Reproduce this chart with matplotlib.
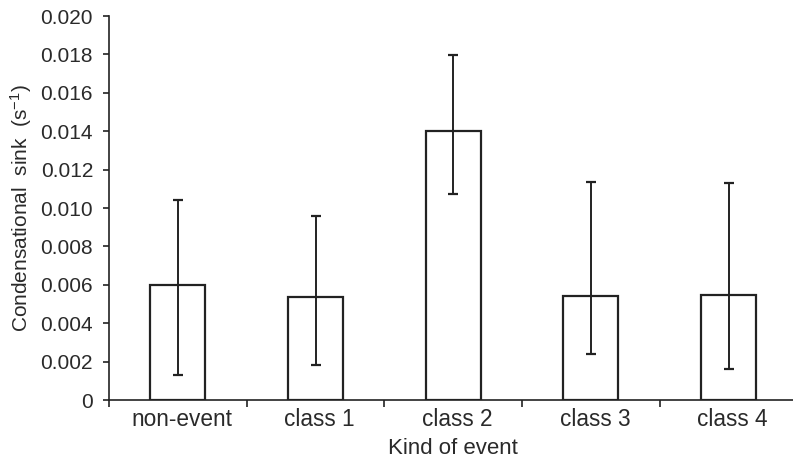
import matplotlib
matplotlib.use('Agg')
import matplotlib.pyplot as plt
import matplotlib.transforms as mtransforms
import numpy as np
from matplotlib.ticker import FuncFormatter, FixedLocator

plt.rcParams['font.family'] = ['Liberation Sans', 'DejaVu Sans']
plt.rcParams['mathtext.fontset'] = 'custom'
plt.rcParams['mathtext.rm'] = 'Liberation Sans'
plt.rcParams['mathtext.it'] = 'Liberation Sans'

# data
kinds = ['non-event', 'class 1', 'class 2', 'class 3', 'class 4']
sink = [0.00597, 0.00536, 0.01401, 0.00542, 0.00549]
err_low = [0.00132, 0.00182, 0.01073, 0.00238, 0.00160]
err_high = [0.01042, 0.00958, 0.01797, 0.01137, 0.01128]

ink = '#222222'
text_col = '#2a2a2a'

fig = plt.figure(figsize=(7.93, 4.58), dpi=100)
ax = fig.add_axes([109 / 793, 58 / 458, 688.5 / 793, 384 / 458])

x = np.arange(len(kinds))
sink = np.array(sink)
yerr = [sink - np.array(err_low), np.array(err_high) - sink]

ax.bar(x, sink, width=0.40, color='white', edgecolor=ink, linewidth=1.6, zorder=2)
ax.errorbar(x, sink, yerr=yerr, fmt='none', ecolor=ink, elinewidth=1.4,
            capsize=3.3, capthick=1.6, zorder=3)

ax.set_xlim(-0.5, len(kinds) - 0.5)
ax.set_ylim(0, 0.020)
ax.set_yticks(np.arange(0, 0.0201, 0.002))
ax.yaxis.set_major_formatter(FuncFormatter(lambda v, p: '0' if abs(v) < 1e-9 else f'{v:.3f}'))

ax.set_xticks(x)
ax.set_xticklabels(kinds)
ax.xaxis.set_minor_locator(FixedLocator(np.arange(-0.5, len(kinds), 1.0)))
ax.tick_params(axis='x', which='major', length=0, pad=6, labelsize=16.3, labelcolor=text_col)
ax.tick_params(axis='x', which='minor', length=5, width=1.2, color=ink, direction='out')
ax.tick_params(axis='y', length=4.5, width=1.2, color=ink, labelsize=15, labelcolor=text_col, pad=7)

# labels sit a touch right of the bar centres in the original
shift = mtransforms.ScaledTranslation(4 / 100, 0, fig.dpi_scale_trans)
for lab in ax.get_xticklabels():
    lab.set_transform(lab.get_transform() + shift)

for s in ['top', 'right']:
    ax.spines[s].set_visible(False)
for s in ['left', 'bottom']:
    ax.spines[s].set_color(ink)
    ax.spines[s].set_linewidth(1.2)

ax.set_xlabel('Kind of event', fontsize=16, color=text_col, labelpad=5)
ax.set_ylabel('Condensational  sink  (s$^{-1}$)', fontsize=15, color=text_col, labelpad=4.5)

fig.savefig('out.png', dpi=100)
